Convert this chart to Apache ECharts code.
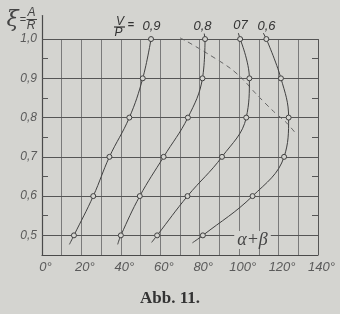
<!DOCTYPE html>
<html>
<head>
<meta charset="utf-8">
<script src="https://cdn.jsdelivr.net/npm/echarts@6/dist/echarts.min.js"></script>
<style>
html,body{margin:0;padding:0;background:#d4d4d0;}
#c{width:340px;height:314px;}
</style>
</head>
<body>
<div id="c"></div>
<script>
// xi = A/R levels where the measured points sit
const xiLevels = [0.5, 0.6, 0.7, 0.8, 0.9, 1.0];
// V/P curve labels
const ratioLabels = ['0,9', '0,8', '07', '0,6'];
// alpha+beta (degrees) at each xi level, per V/P curve
const angles09 = [16.2, 26.0, 34.2, 44.3, 51.1, 55.3];
const angles08 = [40.0, 49.6, 61.7, 74.0, 81.4, 82.7];
const angles07 = [58.4, 73.8, 91.3, 103.6, 105.2, 100.5];
const angles06 = [81.6, 106.8, 122.8, 125.1, 121.2, 113.8];
// lower ends of the curves (below xi = 0.5)
const tailAngles = [13.9, 38.4, 55.6, 76.3];
const tailXi = [0.477, 0.477, 0.482, 0.481];
// short leader strokes from the top points up to the curve labels
const leaderAngles = [null, 82.3, 99.6, 112.3];
const leaderXi = [null, 1.014, 1.015, 1.015];
// dashed envelope line
const dashAngles = [70.0, 73.5, 83.6, 95.4, 102.2, 108.1, 117.4, 124.2, 129.3];
const dashXi = [1.003, 0.994, 0.964, 0.926, 0.896, 0.863, 0.816, 0.786, 0.756];
// grid / tick values
const gridAngles = [10, 20, 30, 40, 50, 60, 70, 80, 90, 100, 110, 120, 130, 140];
const gridXi = [0.5, 0.6, 0.7, 0.8, 0.9, 1.0];
const minorXi = [0.55, 0.65, 0.75, 0.85, 0.95];
const xLabelAngles = [0, 20, 40, 60, 80, 100, 120, 140];

const paper = '#d4d4d0';
const ink = '#404040';
const allAngles = [angles09, angles08, angles07, angles06];

const chart = echarts.init(document.getElementById('c'), null, {renderer: 'canvas'});

const curveSeries = allAngles.map((arr, i) => {
  const data = [{value: [tailAngles[i], tailXi[i]], symbol: 'none'}];
  arr.forEach((a, k) => data.push({value: [a, xiLevels[k]]}));
  const s = {
    type: 'line',
    name: ratioLabels[i],
    data: data,
    smooth: 0.4,
    symbol: 'circle',
    symbolSize: 5,
    showAllSymbol: true,
    lineStyle: {color: ink, width: 1},
    itemStyle: {color: paper, borderColor: ink, borderWidth: 1},
    z: 5,
    silent: true
  };
  if (leaderAngles[i] !== null) {
    s.markLine = {
      silent: true, symbol: 'none', animation: false,
      label: {show: false},
      lineStyle: {color: ink, width: 1, type: 'solid'},
      data: [[{coord: [arr[arr.length - 1], xiLevels[xiLevels.length - 1]]},
              {coord: [leaderAngles[i], leaderXi[i]]}]]
    };
  }
  return s;
});

const gridLines = [];
gridAngles.forEach(a => gridLines.push([
  {coord: [a, 0.45], lineStyle: {color: a === 140 ? '#555' : '#7a7a7a', width: 1}},
  {coord: [a, 1.0]}
]));
gridXi.forEach(y => gridLines.push([
  {coord: [0, y], lineStyle: {color: '#555', width: 1.1}},
  {coord: [140, y]}
]));

const option = {
  backgroundColor: paper,
  animation: false,
  grid: {left: 42, right: 22, top: 15.5, bottom: 59, containLabel: false},
  xAxis: {
    type: 'value', min: 0, max: 140, interval: 10,
    axisLine: {show: true, lineStyle: {color: '#4a4a4a', width: 1.2}},
    axisTick: {show: false},
    splitLine: {show: false},
    axisLabel: {
      customValues: xLabelAngles,
      formatter: v => v + '°',
      fontFamily: 'Liberation Sans', fontStyle: 'italic', fontSize: 13,
      color: '#5a5a5a', margin: 6, padding: [0, 0, 0, 7]
    }
  },
  yAxis: [{
    type: 'value', min: 0.45, max: 1.06, interval: 0.05,
    axisLine: {show: true, lineStyle: {color: '#4a4a4a', width: 1.2}},
    axisTick: {show: true, inside: true, length: 6, customValues: minorXi,
               lineStyle: {color: '#555'}},
    splitLine: {show: false},
    axisLabel: {
      customValues: gridXi,
      formatter: v => v.toFixed(1).replace('.', ','),
      fontFamily: 'Liberation Sans', fontStyle: 'italic', fontSize: 12,
      color: '#5a5a5a', margin: 5
    }
  }, {
    type: 'value', min: 0.45, max: 1.06, interval: 0.05, position: 'right',
    axisLine: {show: false},
    axisTick: {show: true, inside: true, length: 6, customValues: minorXi,
               lineStyle: {color: '#555'}},
    splitLine: {show: false},
    axisLabel: {show: false}
  }],
  series: [{
    type: 'line', data: [], silent: true,
    markLine: {silent: true, symbol: 'none', animation: false,
               label: {show: false}, lineStyle: {type: 'solid'}, data: gridLines},
    z: 1
  }, {
    type: 'line', silent: true,
    data: dashAngles.map((a, i) => [a, dashXi[i]]),
    smooth: 0.3, symbol: 'none',
    lineStyle: {color: '#666', width: 1, type: [5, 4]},
    z: 4
  }].concat(curveSeries),
  graphic: [
    {type: 'text', x: 12.5, y: 20, style: {text: 'ξ', font: 'italic 22px "DejaVu Serif"', fill: '#444', align: 'center', verticalAlign: 'middle'}},
    {type: 'text', x: 23, y: 20, style: {text: '=', font: '11px "Liberation Sans"', fill: '#444', align: 'center', verticalAlign: 'middle'}},
    {type: 'text', x: 31.5, y: 13, style: {text: 'A', font: 'italic 12px "Liberation Sans"', fill: '#444', align: 'center', verticalAlign: 'middle'}},
    {type: 'line', shape: {x1: 26.5, y1: 19.5, x2: 37, y2: 19.5}, style: {stroke: '#444', lineWidth: 1}},
    {type: 'text', x: 31, y: 26, style: {text: 'R', font: 'italic 12px "Liberation Sans"', fill: '#444', align: 'center', verticalAlign: 'middle'}},

    {type: 'text', x: 120, y: 21.5, style: {text: 'V', font: 'italic 12px "Liberation Sans"', fill: '#333', align: 'center', verticalAlign: 'middle'}},
    {type: 'line', shape: {x1: 114, y1: 27, x2: 125, y2: 27}, style: {stroke: '#333', lineWidth: 1.2}},
    {type: 'text', x: 118.5, y: 32.5, style: {text: 'P', font: 'italic 12px "Liberation Sans"', fill: '#333', align: 'center', verticalAlign: 'middle'}},
    {type: 'text', x: 131, y: 25, style: {text: '=', font: 'bold 11px "Liberation Sans"', fill: '#333', align: 'center', verticalAlign: 'middle'}},
    {type: 'text', x: 151.5, y: 26, style: {text: ratioLabels[0], font: 'italic 13px "Liberation Sans"', fill: '#333', align: 'center', verticalAlign: 'middle'}},
    {type: 'text', x: 202.5, y: 26, style: {text: ratioLabels[1], font: 'italic 13px "Liberation Sans"', fill: '#333', align: 'center', verticalAlign: 'middle'}},
    {type: 'text', x: 240.5, y: 25.5, style: {text: ratioLabels[2], font: 'italic 13px "Liberation Sans"', fill: '#333', align: 'center', verticalAlign: 'middle'}},
    {type: 'text', x: 266.5, y: 26, style: {text: ratioLabels[3], font: 'italic 13px "Liberation Sans"', fill: '#333', align: 'center', verticalAlign: 'middle'}},

    {type: 'text', x: 252.5, y: 240, z: 10, style: {text: 'α+β', font: 'italic 18px "Liberation Serif"', fill: '#444', align: 'center', verticalAlign: 'middle', backgroundColor: paper, padding: [0, 3]}},
    {type: 'text', x: 170, y: 299, style: {text: 'Abb. 11.', font: 'bold 17px "Liberation Serif"', fill: '#333', align: 'center', verticalAlign: 'middle'}}
  ]
};
chart.setOption(option);
</script>
</body>
</html>
